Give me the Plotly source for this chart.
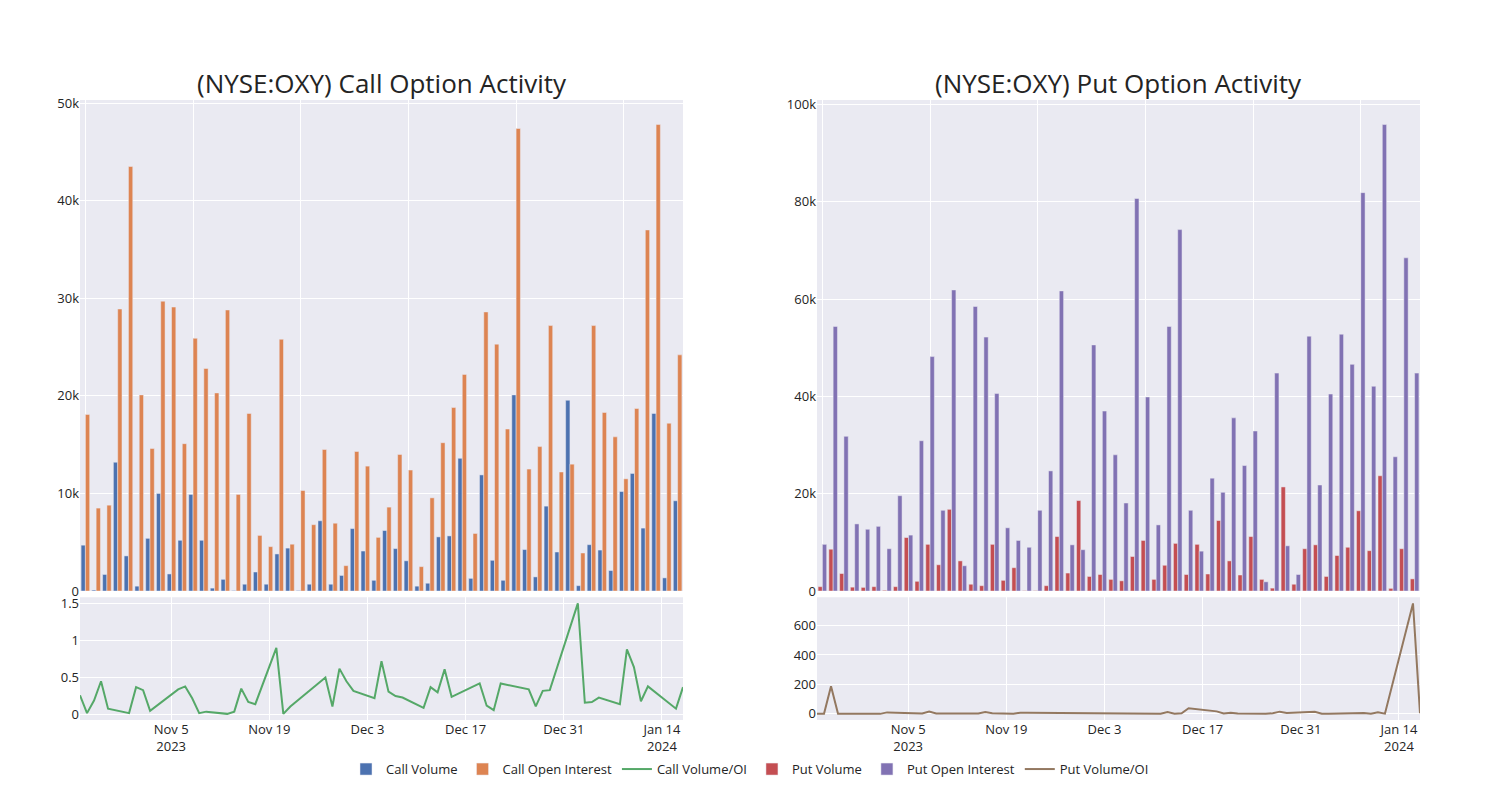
import plotly.graph_objects as go
from plotly.subplots import make_subplots

dates = [
    "2023-10-23", "2023-10-24", "2023-10-25", "2023-10-26", "2023-10-27",
    "2023-10-30", "2023-10-31", "2023-11-01", "2023-11-02",
    "2023-11-06", "2023-11-07", "2023-11-08", "2023-11-09", "2023-11-10",
    "2023-11-13", "2023-11-14", "2023-11-15", "2023-11-16", "2023-11-17",
    "2023-11-20", "2023-11-21", "2023-11-22",
    "2023-11-27", "2023-11-28", "2023-11-29", "2023-11-30", "2023-12-01",
    "2023-12-04", "2023-12-05", "2023-12-06", "2023-12-07", "2023-12-08",
    "2023-12-11", "2023-12-12", "2023-12-13", "2023-12-14", "2023-12-15",
    "2023-12-19", "2023-12-20", "2023-12-21", "2023-12-22",
    "2023-12-26", "2023-12-27", "2023-12-28", "2023-12-29",
    "2024-01-02", "2024-01-03", "2024-01-04", "2024-01-05",
    "2024-01-08", "2024-01-09", "2024-01-10", "2024-01-11", "2024-01-12",
    "2024-01-16", "2024-01-17",
]

call_volume = [
    4700, 100, 1700, 13200, 3600,
    500, 5400, 10000, 1750,
    5200, 9900, 5200, 300, 1200,
    50, 700, 1950, 700, 3800,
    4400, 50, 700,
    7200, 700, 1600, 6400, 4100,
    1100, 6200, 4350, 3100, 500,
    800, 5550, 5650, 13600, 1300,
    11900, 3150, 1100, 20100,
    4250, 1450, 8700, 4000,
    19550, 550, 4750, 4200,
    2100, 10200, 12050, 6450, 18200,
    1350, 9250,
]

call_open_interest = [
    18100, 8500, 8800, 28900, 43500,
    20100, 14600, 29700, 29100,
    15100, 25900, 22800, 20300, 28800,
    9900, 18200, 5700, 4550, 25800,
    4800, 10300, 6800,
    14500, 6950, 2600, 14300, 12800,
    5500, 8600, 14000, 12400, 2500,
    9550, 15200, 18800, 22200, 5900,
    28600, 25300, 16600, 47400,
    12500, 14800, 27200, 12200,
    13000, 3900, 27200, 18300,
    15800, 11500, 18700, 37000, 47800,
    17200, 24200,
]

call_vol_oi = [
    0.26, 0.02, 0.19, 0.45, 0.08,
    0.02, 0.37, 0.33, 0.05,
    0.34, 0.38, 0.22, 0.02, 0.04,
    0.01, 0.04, 0.35, 0.17, 0.14,
    0.90, 0.01, 0.11,
    0.50, 0.11, 0.62, 0.45, 0.32,
    0.22, 0.72, 0.31, 0.25, 0.23,
    0.09, 0.37, 0.30, 0.61, 0.24,
    0.42, 0.12, 0.06, 0.42,
    0.34, 0.11, 0.32, 0.33,
    1.50, 0.16, 0.17, 0.23,
    0.14, 0.88, 0.64, 0.18, 0.38,
    0.08, 0.37,
]

put_volume = [
    900, 8600, 3600, 800, 750,
    900, 150, 900, 11000,
    2000, 9600, 5400, 16800, 6200,
    1400, 1100, 9600, 2200, 4800,
    70, 70, 1100,
    11200, 3700, 18600, 3000, 3400,
    2400, 2100, 7100, 10400, 2400,
    5300, 9800, 3400, 9600, 3500,
    14500, 6200, 3300, 11200,
    2400, 600, 21400, 1400,
    8700, 9500, 3000, 7300,
    9000, 16500, 8300, 23700, 550,
    8700, 2500,
]

put_open_interest = [
    9600, 54400, 31800, 13800, 12700,
    13300, 8700, 19600, 11500,
    30900, 48200, 16600, 61900, 5200,
    58500, 52200, 40600, 13000, 10400,
    9000, 16600, 24700,
    61700, 9500, 8500, 50600, 37000,
    28000, 18100, 80700, 39900, 13600,
    54400, 74300, 16600, 8200, 23200,
    20300, 35600, 25800, 32900,
    1900, 44800, 9300, 3400,
    52400, 21800, 40500, 52800,
    46600, 81900, 42100, 95900, 27600,
    68500, 44800,
]

put_vol_oi = [
    0, 0, 187, 0, 0,
    0, 0, 0, 10,
    8, 3, 16, 3, 2,
    1, 1, 2, 12, 5,
    1, 8, 8,
    7, 6, 5, 4, 3,
    2, 2, 2, 5, 3,
    1, 12, 1, 4, 38,
    17, 3, 8, 2,
    1, 4, 15, 6,
    14, 1, 1, 2,
    1, 6, 1, 10, 1,
    750, 5,
]

fig = make_subplots(
    rows=2, cols=2,
    row_heights=[0.8, 0.2],
    horizontal_spacing=0.1,
    vertical_spacing=0.01,
    subplot_titles=["(NYSE:OXY) Call Option Activity", "(NYSE:OXY) Put Option Activity", "", ""],
)

fig.add_trace(go.Bar(x=dates, y=call_volume, name="Call Volume"), row=1, col=1)
fig.add_trace(go.Bar(x=dates, y=call_open_interest, name="Call Open Interest"), row=1, col=1)
fig.add_trace(go.Scatter(x=dates, y=call_vol_oi, name="Call Volume/OI", mode="lines"), row=2, col=1)
fig.add_trace(go.Bar(x=dates, y=put_volume, name="Put Volume"), row=1, col=2)
fig.add_trace(go.Bar(x=dates, y=put_open_interest, name="Put Open Interest"), row=1, col=2)
fig.add_trace(go.Scatter(x=dates, y=put_vol_oi, name="Put Volume/OI", mode="lines"), row=2, col=2)

fig.update_layout(
    template="seaborn",
    width=1500, height=800,
    font=dict(size=13),
    margin=dict(l=72, r=88, t=92, b=88),
    barmode="group",
    legend=dict(orientation="h", x=0.5, xanchor="center", y=-0.055, yanchor="top"),
)

for c in (1, 2):
    fig.update_xaxes(type="category", showticklabels=False, tickmode="linear",
                     tick0=0, dtick=10, row=1, col=c)
    fig.update_xaxes(type="date", row=2, col=c)

fig.update_annotations(font_size=26, yshift=-3)

fig.write_html("out.html")
